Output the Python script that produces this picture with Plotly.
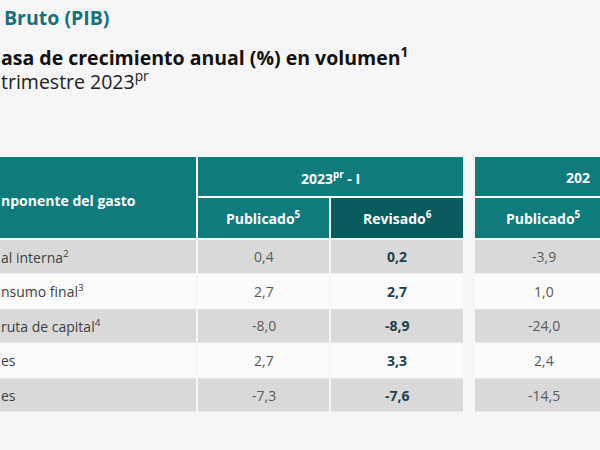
import plotly.graph_objects as go

# ---------------- data ----------------
components = ["al interna<sup>2</sup>", "nsumo final<sup>3</sup>",
              "ruta de capital<sup>4</sup>", "es", "es"]
pub_2023_i = [0.4, 2.7, -8.0, 2.7, -7.3]
rev_2023_i = [0.2, 2.7, -8.9, 3.3, -7.6]
pub_prev = [-3.9, 1.0, -24.0, 2.4, -14.5]
group_labels = ["2023<sup>pr</sup> - I", "202"]
sub_labels = ["Publicado<sup>5</sup>", "Revisado<sup>6</sup>", "Publicado<sup>5</sup>"]
header_label = "nponente del gasto"
title_1 = "Bruto (PIB)"
title_2 = "asa de crecimiento anual (%) en volumen<sup>1</sup>"
title_3 = "trimestre 2023<sup>pr</sup>"

# ---------------- layout constants ----------------
W, H = 600, 450
FONT = "Open Sans"
TEAL = "#0f7b7c"
TEAL_DARK = "#0a5b5e"
GREY = "#d9d9d9"
ROW_LIGHT = "#fbfbfb"
BG = "#f6f6f6"

label_col = (-10, 196)
data_cols = [(198, 329), (331, 463), (475, 612)]
col_series = [pub_2023_i, rev_2023_i, pub_prev]
col_bold = [False, True, False]
group_spans = [(198, 463), (475, 740)]
hdr1 = (157, 196)
hdr2 = (198, 238)
row_top0, row_pitch, row_h = 240, 34.6, 33.2

shapes = []
ann = []

def rect(x0, x1, y0, y1, color):
    shapes.append(dict(type="rect", xref="x", yref="y", x0=x0, x1=x1, y0=y0, y1=y1,
                       fillcolor=color, line=dict(width=0), layer="below"))

def text(x, y, s, size=14, color="#404040", anchor="center", bold=False):
    if bold:
        s = "<b>" + s + "</b>"
    ann.append(dict(x=x, y=y, xref="x", yref="y", text=s, showarrow=False,
                    xanchor=anchor, yanchor="middle", borderpad=0,
                    font=dict(family=FONT, size=size, color=color)))

# header
rect(label_col[0], label_col[1], hdr1[0], hdr2[1], TEAL)
text(0, 200, header_label, size=14, color="white", anchor="left", bold=True)
for (g0, g1), g in zip(group_spans, group_labels):
    rect(g0, g1, hdr1[0], hdr1[1], TEAL)
for i, ((c0, c1), s) in enumerate(zip(data_cols, sub_labels)):
    rect(c0, c1, hdr2[0], hdr2[1], TEAL_DARK if col_bold[i] else TEAL)
    text((c0 + c1) / 2, (hdr2[0] + hdr2[1]) / 2, s, size=14, color="white", bold=True)
text((group_spans[0][0] + group_spans[0][1]) / 2, (hdr1[0] + hdr1[1]) / 2 + 1,
     group_labels[0], size=14, color="white", bold=True)
text(565, (hdr1[0] + hdr1[1]) / 2 + 1, group_labels[1], size=14, color="white",
     anchor="left", bold=True)

# body
for r, comp in enumerate(components):
    y0 = row_top0 + r * row_pitch
    y1 = y0 + row_h
    fill = GREY if r % 2 == 0 else ROW_LIGHT
    rect(label_col[0], label_col[1], y0, y1, fill)
    yc = (y0 + y1) / 2
    text(0, yc, comp, size=14, color="#3f3f3f", anchor="left")
    for c, ((c0, c1), series) in enumerate(zip(data_cols, col_series)):
        rect(c0, c1, y0, y1, fill)
        v = f"{series[r]:.1f}".replace(".", ",")
        if col_bold[c]:
            text((c0 + c1) / 2, yc, v, size=14, color="#21404b", bold=True)
        else:
            text((c0 + c1) / 2, yc, v, size=14, color="#595959")

# titles
text(3, 17, title_1, size=19.5, color="#1a7078", anchor="left", bold=True)
text(0, 56, title_2, size=19.5, color="#111111", anchor="left", bold=True)
text(0, 80, title_3, size=19.5, color="#222222", anchor="left")

fig = go.Figure()
fig.update_layout(
    width=W, height=H,
    margin=dict(l=0, r=0, t=0, b=0),
    paper_bgcolor=BG, plot_bgcolor=BG,
    xaxis=dict(range=[0, W], visible=False, fixedrange=True),
    yaxis=dict(range=[H, 0], visible=False, fixedrange=True),
    shapes=shapes, annotations=ann, showlegend=False,
)
fig.write_html("out.html", config={"displayModeBar": False},
               post_script="document.body.style.margin='0';document.body.style.overflow='hidden';")
